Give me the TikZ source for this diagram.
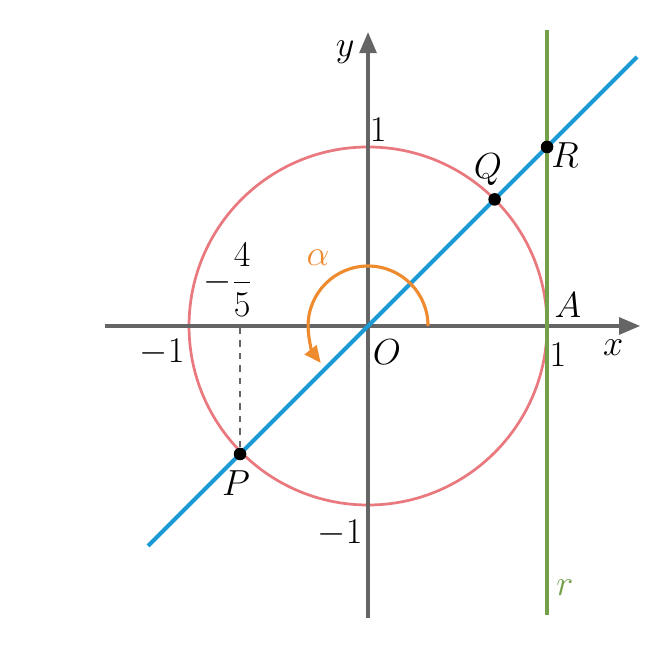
\documentclass[tikz,border=0pt]{standalone}
\usepackage{amsmath}
\usetikzlibrary{arrows.meta}
\definecolor{axisgray}{HTML}{656565}
\definecolor{circred}{HTML}{E9797F}
\definecolor{lineblue}{HTML}{1C9AD6}
\definecolor{rgreen}{HTML}{74A04A}
\definecolor{alphaorange}{HTML}{EE8B2F}
\begin{document}
\begin{tikzpicture}[x=3cm,y=3cm,
        every node/.style={font=\fontsize{17}{20}\selectfont},
        axis/.style={draw=axisgray,line width=1.6pt,-{Triangle[length=10pt,width=8pt]}},
        pt/.style={shape=circle,fill=black,inner sep=0pt,minimum size=6pt}]
        \useasboundingbox (-2.056,-1.788) rectangle (1.670,1.821);
        \coordinate (O) at (0,0);
        \coordinate (xs) at (-1.469,0);
        \coordinate (xe) at (1.52,0);
        \coordinate (ys) at (0,-1.631);
        \coordinate (ye) at (0,1.642);
        \coordinate (bs) at (-1.229,-1.229);
        \coordinate (be) at (1.503,1.503);
        \coordinate (gs) at (1,-1.615);
        \coordinate (ge) at (1,1.654);
        \coordinate (Pf) at (-0.715,0);
        \draw[circred,line width=1.3pt] (O) circle (1);
        \draw[axis] (xs) -- (xe);
        \draw[axis] (ys) -- (ye);
        \draw[rgreen,line width=1.6pt] (gs) -- (ge);
        \draw[lineblue,line width=2pt] (bs) -- (be);
        \draw[alphaorange,line width=1.5pt,-{Triangle[length=8pt,width=7pt]}]
            (0.335,0) arc[start angle=0,end angle=218,radius=0.335];
        \node[pt] (P) at (-0.715,-0.715) {};
        \node[pt] (Q) at (0.7071,0.7071) {};
        \node[pt] (R) at (1,1) {};
        \draw[axisgray,line width=1pt,dashed] (P) -- (Pf);
        \node (ylab) at (-0.128,1.531) {$y$};
        \node (xlab) at (1.369,-0.123) {$x$};
        \node (one1) at (0.056,1.095) {$1$};
        \node (Qlab) at (0.670,0.872) {$Q$};
        \node (Rlab) at (1.10,0.955) {$R$};
        \node[text=alphaorange] (alab) at (-0.279,0.380) {$\alpha$};
        \node (frac) at (-0.782,0.257) {$-\dfrac{4}{5}$};
        \node (Alab) at (1.117,0.117) {$A$};
        \node (mone1) at (-1.151,-0.145) {$-1$};
        \node (Olab) at (0.106,-0.145) {$O$};
        \node (one2) at (1.061,-0.162) {$1$};
        \node (Plab) at (-0.737,-0.877) {$P$};
        \node (mone2) at (-0.156,-1.156) {$-1$};
        \node[text=rgreen] (rlab) at (1.10,-1.464) {$r$};
\end{tikzpicture}
\end{document}
